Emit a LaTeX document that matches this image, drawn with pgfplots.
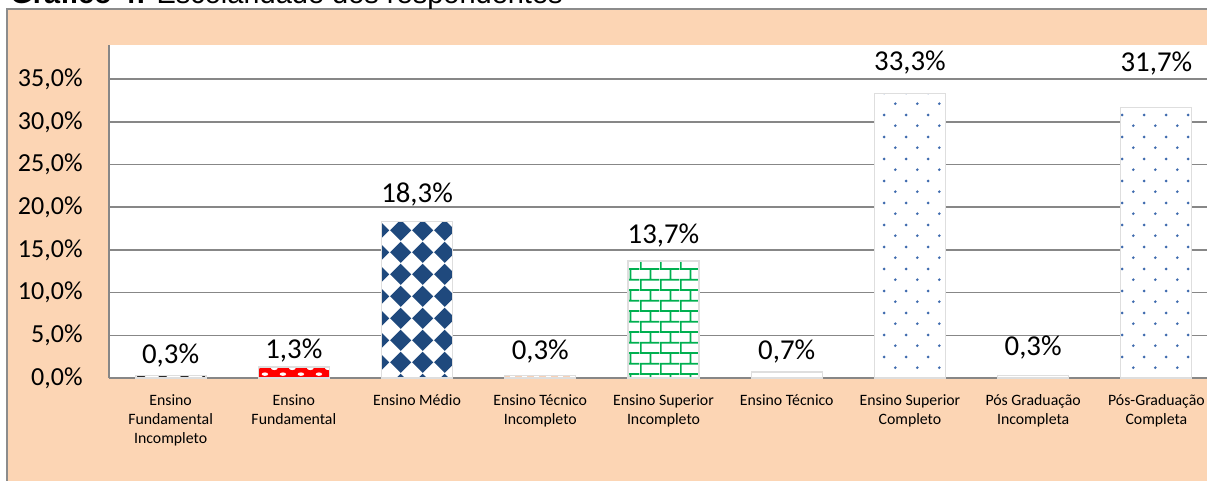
\documentclass[border=0pt]{standalone}
\usepackage{fontspec}
\setmainfont{Carlito}
\newfontfamily\titlefont{Liberation Sans}
\usepackage{pgfplots}
\pgfplotsset{compat=1.18}
\usetikzlibrary{patterns.meta}

\definecolor{peach}{HTML}{FCD5B4}
\definecolor{framegray}{HTML}{8C8C8C}
\definecolor{axgray}{HTML}{878787}
\definecolor{dkblue}{HTML}{1F497D}
\definecolor{brickgreen}{HTML}{00B050}
\definecolor{dotblue}{HTML}{3E6AAE}
\definecolor{dashorange}{HTML}{ED7D31}
\definecolor{nearblack}{HTML}{2A2A2A}

\pgfdeclarepattern{
  name=xdiamonds, type=uncolored,
  bottom left={\pgfpoint{0pt}{0pt}}, top right={\pgfpoint{10.85pt}{10.85pt}},
  tile size={\pgfpoint{10.85pt}{10.85pt}},
  code={
    \pgfpathmoveto{\pgfpoint{5.425pt}{0.1pt}}
    \pgfpathlineto{\pgfpoint{10.75pt}{5.425pt}}
    \pgfpathlineto{\pgfpoint{5.425pt}{10.75pt}}
    \pgfpathlineto{\pgfpoint{0.1pt}{5.425pt}}
    \pgfpathclose
    \pgfusepath{fill}
  }
}
\pgfdeclarepattern{
  name=xdots, type=uncolored,
  bottom left={\pgfpoint{0pt}{0pt}}, top right={\pgfpoint{10.85pt}{10.85pt}},
  tile size={\pgfpoint{10.85pt}{10.85pt}},
  code={
    \pgfpathcircle{\pgfpoint{2.71pt}{2.71pt}}{0.75pt}
    \pgfpathcircle{\pgfpoint{8.14pt}{8.14pt}}{0.75pt}
    \pgfusepath{fill}
  }
}
\pgfdeclarepattern{
  name=xbricks, type=uncolored,
  bottom left={\pgfpoint{0pt}{0pt}}, top right={\pgfpoint{10pt}{10.7pt}},
  tile size={\pgfpoint{10pt}{10.7pt}},
  code={
    \pgfpathrectangle{\pgfpoint{0pt}{0pt}}{\pgfpoint{10pt}{0.9pt}}
    \pgfpathrectangle{\pgfpoint{0pt}{5.35pt}}{\pgfpoint{10pt}{0.9pt}}
    \pgfpathrectangle{\pgfpoint{0pt}{0pt}}{\pgfpoint{0.9pt}{5.35pt}}
    \pgfpathrectangle{\pgfpoint{5pt}{5.35pt}}{\pgfpoint{0.9pt}{5.35pt}}
    \pgfusepath{fill}
  }
}
\pgfdeclarepattern{
  name=xovals, type=uncolored,
  bottom left={\pgfpoint{0pt}{0pt}}, top right={\pgfpoint{9pt}{5.5pt}},
  tile size={\pgfpoint{9pt}{5.5pt}},
  code={
    \pgfpathellipse{\pgfpoint{2.25pt}{1.4pt}}{\pgfpoint{1.7pt}{0pt}}{\pgfpoint{0pt}{0.9pt}}
    \pgfpathellipse{\pgfpoint{6.75pt}{4.1pt}}{\pgfpoint{1.7pt}{0pt}}{\pgfpoint{0pt}{0.9pt}}
    \pgfusepath{fill}
  }
}
\pgfdeclarepattern{
  name=xdashes, type=uncolored,
  bottom left={\pgfpoint{0pt}{0pt}}, top right={\pgfpoint{5.85pt}{2pt}},
  tile size={\pgfpoint{5.85pt}{2pt}},
  code={
    \pgfpathrectangle{\pgfpoint{0pt}{0.3pt}}{\pgfpoint{3.5pt}{1.2pt}}
    \pgfusepath{fill}
  }
}

\newcommand\st{\rule{0pt}{9pt}}

\begin{document}
\begin{tikzpicture}
\useasboundingbox (0,0) rectangle (603.5pt,-240.5pt);
\clip (0,0) rectangle (603.5pt,-240.5pt);
\fill[white] (0,0) rectangle (603.5pt,-240.5pt);
\draw[draw=framegray, line width=1pt, fill=peach] (3.5pt,-4.4pt) rectangle (700pt,-320pt);
\node[anchor=base west, inner sep=0pt, font=\titlefont\fontsize{14.5}{17}\selectfont] at (5pt,-1.75pt) {\textbf{Gráfico 4:} Escolaridade dos respondentes};

\begin{axis}[
  at={(54.5pt,-189pt)}, anchor=south west,
  scale only axis, width=554.5pt, height=166.5pt,
  xmin=-0.5, xmax=8.5, ymin=0, ymax=39,
  axis lines=left, axis line style={-, draw=axgray, line width=0.9pt},
  axis background/.style={fill=white},
  ymajorgrids, grid style={draw=axgray, line width=0.75pt},
  ytick={0,5,...,35}, xtick={0,...,8},
  major tick length=0pt,
  /pgf/number format/assume math mode=true,
  yticklabel={\pgfmathprintnumber[fixed,fixed zerofill,precision=1,use comma]{\tick}\%},
  yticklabel style={font=\fontsize{13}{15}\selectfont, anchor=east, inner sep=0pt, xshift=-13pt},
  xticklabels={{\st Ensino\\Fundamental\\Incompleto},{\st Ensino\\Fundamental},{\st Ensino Médio},{\st Ensino Técnico\\Incompleto},{\st Ensino Superior\\Incompleto},{\st Ensino Técnico},{\st Ensino Superior\\Completo},{\st Pós Graduação\\Incompleta},{\st Pós-Graduação\\Completa}},
  xticklabel style={font=\fontsize{7.9}{9.5}\selectfont, align=center, anchor=north, inner sep=0pt, yshift=-4.5pt},
  mybar/.style={ybar, bar width=0.576, bar shift=0pt, draw=black!13, line width=0.6pt},
]
\addplot[mybar, fill=white, postaction={pattern=xdiamonds, pattern color=nearblack}] coordinates {(0,0.3)};
\addplot[mybar, fill=red, postaction={pattern=xovals, pattern color=white}] coordinates {(1,1.3)};
\addplot[mybar, fill=white, postaction={pattern=xdiamonds, pattern color=dkblue}] coordinates {(2,18.3)};
\addplot[mybar, fill=white, postaction={pattern=xdashes, pattern color=dashorange}] coordinates {(3,0.3)};
\addplot[mybar, fill=white, postaction={pattern=xbricks, pattern color=brickgreen}] coordinates {(4,13.7)};
\addplot[mybar, fill=white, postaction={pattern=xdots, pattern color=dotblue}] coordinates {(5,0.7)};
\addplot[mybar, fill=white, postaction={pattern=xdots, pattern color=dotblue}] coordinates {(6,33.3)};
\addplot[mybar, fill=white, postaction={pattern=xdots, pattern color=dotblue}] coordinates {(7,0.3)};
\addplot[mybar, fill=white, postaction={pattern=xdots, pattern color=dotblue}] coordinates {(8,31.7)};
\addplot[draw=none, mark=none, point meta=explicit,
  nodes near coords={\pgfmathprintnumber[fixed,fixed zerofill,precision=1,use comma]{\pgfplotspointmeta}\%},
  every node near coord/.append style={anchor=base, inner sep=0pt, font=\fontsize{14.4}{17}\selectfont}]
  table[x=x, y=y, meta=v] {
x y v
0 1.64 0.3
1 2.34 1.3
2 20.6 18.3
3 2.11 0.3
4 15.8 13.7
5 2.11 0.7
6 36.07 33.3
7 2.69 0.3
8 35.95 31.7
};
\end{axis}
\end{tikzpicture}
\end{document}
